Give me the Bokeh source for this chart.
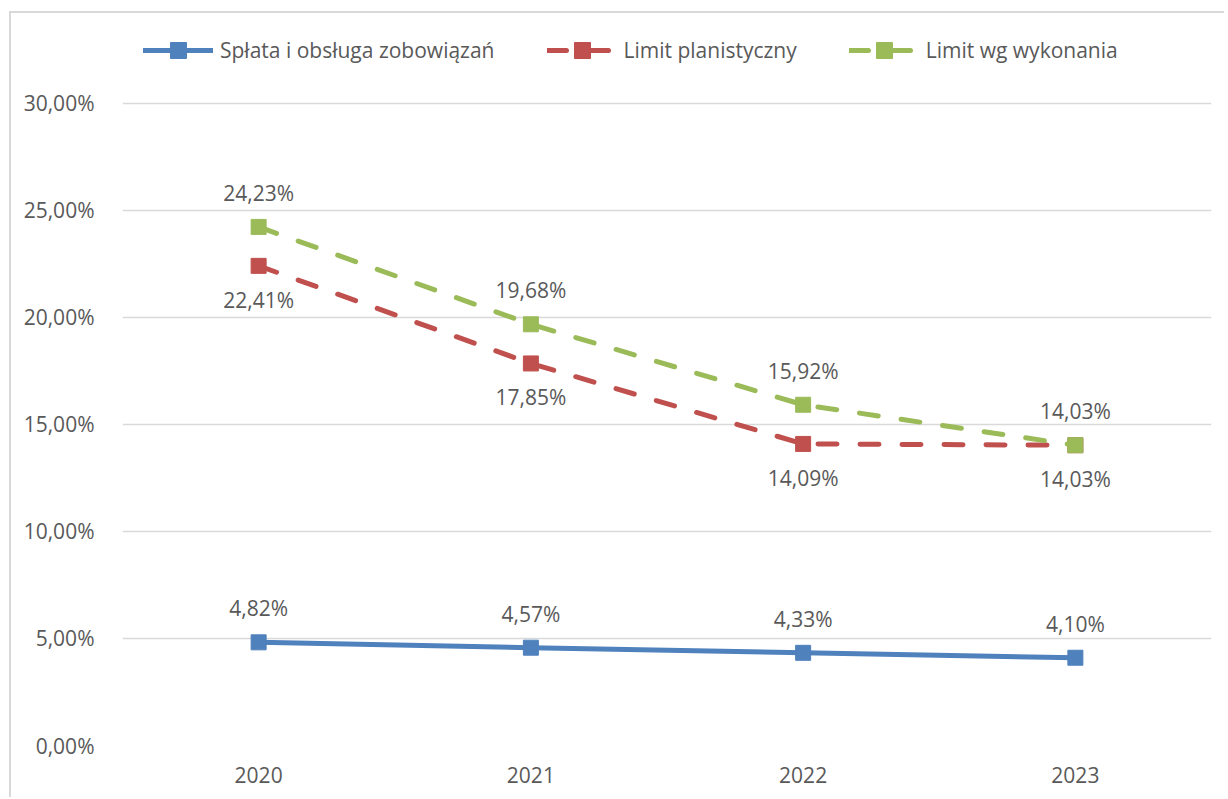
from bokeh.plotting import figure
from bokeh.models import (FactorRange, Range1d, FixedTicker, CustomJSTickFormatter,
                          ColumnDataSource, LabelSet, Legend, LegendItem)
from bokeh.embed import file_html
from bokeh.resources import INLINE
from bokeh.core.properties import value

years = ["2020", "2021", "2022", "2023"]
splata = [4.82, 4.57, 4.33, 4.10]
limit_plan = [22.41, 17.85, 14.09, 14.03]
limit_wyk = [24.23, 19.68, 15.92, 14.03]
series_names = ["Spłata i obsługa zobowiązań", "Limit planistyczny", "Limit wg wykonania"]
y_ticks = [0, 5, 10, 15, 20, 25, 30]

FONT = "Open Sans"
TXT = "#595959"
FS = "21px"
BLUE, RED, GREEN = "#4F81BD", "#C0504D", "#9BBB59"

p = figure(width=1215, height=786,
           x_range=FactorRange(*years, range_padding=0),
           y_range=Range1d(0, 33.5),
           output_backend="svg", toolbar_location=None,
           min_border_left=111, min_border_right=15,
           min_border_top=15, min_border_bottom=54)
p.styles = {"border-top": "2px solid #d9d9d9", "border-left": "2px solid #d9d9d9",
            "margin-left": "9px", "margin-top": "11px"}
p.outline_line_color = None
p.background_fill_color = "white"

p.xgrid.visible = False
p.ygrid.grid_line_color = "#d9d9d9"
p.ygrid.grid_line_width = 1.5

p.yaxis.ticker = FixedTicker(ticks=y_ticks)
p.yaxis.formatter = CustomJSTickFormatter(code="return tick.toFixed(2).replace('.', ',') + '%';")
for ax in (p.xaxis, p.yaxis):
    ax.axis_line_color = None
    ax.major_tick_line_color = None
    ax.minor_tick_line_color = None
    ax.major_label_text_font = FONT
    ax.major_label_text_font_size = FS
    ax.major_label_text_color = TXT
p.yaxis.major_label_standoff = 22
p.xaxis.major_label_standoff = 15

def fmt(v):
    return f"{v:.2f}".replace(".", ",") + "%"

items = []
specs = [(splata, BLUE, "solid", 34), (limit_plan, RED, "19 23", -34), (limit_wyk, GREEN, "19 23", 34)]
for name, (vals, col, dash, off) in zip(series_names, specs):
    src = ColumnDataSource(dict(x=years, y=vals, t=[fmt(v) for v in vals]))
    lr = p.line(x="x", y="y", source=src, line_color=col, line_width=5,
                line_dash=dash, line_cap="round", line_join="round")
    sr = p.scatter(x="x", y="y", source=src, marker="square", size=15,
                   fill_color=col, line_color=col)
    items.append(LegendItem(label=name, renderers=[lr, sr]))
    p.add_layout(LabelSet(x="x", y="y", text="t", source=src, y_offset=off,
                          text_align="center", text_baseline="middle",
                          text_font=value(FONT), text_font_size=value(FS),
                          text_color=TXT))

legend = Legend(items=items, orientation="horizontal", location=(21, 675),
                glyph_width=70, glyph_height=40, label_standoff=7, spacing=52,
                padding=0, margin=0, border_line_color=None,
                background_fill_alpha=0, label_text_font=FONT,
                label_text_font_size=FS, label_text_color=TXT)
p.add_layout(legend)

open("out.html", "w").write(file_html(p, INLINE))
